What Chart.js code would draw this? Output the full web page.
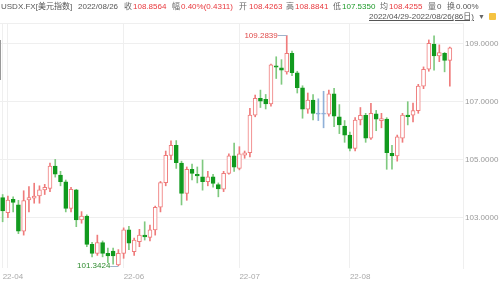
<!DOCTYPE html>
<html>
<head>
<meta charset="utf-8">
<script src="https://cdn.jsdelivr.net/npm/chart.js@4.4.0/dist/chart.umd.min.js"></script>
<style>
  html, body { margin: 0; padding: 0; background: #fff; }
  #wrap { position: relative; width: 500px; height: 284px; overflow: hidden;
          font-family: "Liberation Sans", "Noto Sans CJK SC", sans-serif; font-size: 8px; }
  #wrap canvas { position: absolute; left: 0; top: 0; }
  .t { position: absolute; white-space: nowrap; line-height: 10px; }
  .g { color: #555; } .r { color: #e8383d; } .gr { color: #1e9a2a; } .lb { color: #666; }
</style>
</head>
<body>
<div id="wrap">
  <canvas id="c" width="500" height="284"></canvas>
  <span class="t g" style="left:1px;top:2px">USDX.FX[美元指数]</span>
  <span class="t g" style="left:78px;top:2px">2022/08/26</span>
  <span class="t lb" style="left:124px;top:2px">收</span>
  <span class="t r" style="left:133px;top:2px">108.8564</span>
  <span class="t lb" style="left:172px;top:2px">幅</span>
  <span class="t r" style="left:181px;top:2px">0.40%(0.4311)</span>
  <span class="t lb" style="left:239px;top:2px">开</span>
  <span class="t r" style="left:249px;top:2px">108.4263</span>
  <span class="t lb" style="left:286px;top:2px">高</span>
  <span class="t r" style="left:295px;top:2px">108.8841</span>
  <span class="t lb" style="left:333px;top:2px">低</span>
  <span class="t gr" style="left:342px;top:2px">107.5350</span>
  <span class="t lb" style="left:380px;top:2px">均</span>
  <span class="t r" style="left:389px;top:2px">108.4255</span>
  <span class="t lb" style="left:428px;top:2px">量</span>
  <span class="t g" style="left:437px;top:2px">0</span>
  <span class="t lb" style="left:447px;top:2px">换</span>
  <span class="t g" style="left:456px;top:2px">0.00%</span>
  <span class="t g" style="left:369px;top:12px;text-decoration:underline;">2022/04/29-2022/08/26(86日)</span>
  <span class="t" style="left:478px;top:12px;color:#666;font-size:7px">▼</span>
  <div style="position:absolute;left:489px;top:13px;width:7px;height:7px;background:#f5c342;border-radius:1px"></div>
  <div style="position:absolute;left:0px;top:40px;width:1px;height:40px;background:#999"></div>
</div>
<script>
// ---- data ----
const dates = [
  '2022-04-29',
  '2022-05-02','2022-05-03','2022-05-04','2022-05-05','2022-05-06','2022-05-09','2022-05-10','2022-05-11','2022-05-12','2022-05-13',
  '2022-05-16','2022-05-17','2022-05-18','2022-05-19','2022-05-20','2022-05-23','2022-05-24','2022-05-25','2022-05-26','2022-05-27',
  '2022-05-30','2022-05-31',
  '2022-06-01','2022-06-02','2022-06-03','2022-06-06','2022-06-07','2022-06-08','2022-06-09','2022-06-10','2022-06-13','2022-06-14',
  '2022-06-15','2022-06-16','2022-06-17','2022-06-20','2022-06-21','2022-06-22','2022-06-23','2022-06-24','2022-06-27','2022-06-28',
  '2022-06-29','2022-06-30',
  '2022-07-01','2022-07-04','2022-07-05','2022-07-06','2022-07-07','2022-07-08','2022-07-11','2022-07-12','2022-07-13','2022-07-14',
  '2022-07-15','2022-07-18','2022-07-19','2022-07-20','2022-07-21','2022-07-22','2022-07-25','2022-07-26','2022-07-27','2022-07-28',
  '2022-07-29',
  '2022-08-01','2022-08-02','2022-08-03','2022-08-04','2022-08-05','2022-08-08','2022-08-09','2022-08-10','2022-08-11','2022-08-12',
  '2022-08-15','2022-08-16','2022-08-17','2022-08-18','2022-08-19','2022-08-22','2022-08-23','2022-08-24','2022-08-25','2022-08-26'
];
const open = [
  103.69,
  103.17,103.63,103.44,102.54,103.61,103.67,103.75,103.96,104.01,104.78,
  104.47,104.24,103.32,103.96,102.92,103.06,102.08,101.77,102.14,101.77,
  101.85,101.37,
  101.77,102.58,101.83,102.17,102.40,102.32,102.58,103.36,104.21,105.15,
  105.50,104.88,103.84,104.67,104.50,104.41,104.24,104.41,104.14,103.98,
  104.53,105.13,
  104.70,105.16,105.24,106.54,107.12,107.08,106.92,108.24,108.17,108.03,
  108.67,108.00,107.48,106.74,107.06,106.58,106.57,106.57,107.27,106.48,
  106.16,
  105.85,105.39,106.37,106.53,105.74,106.58,106.35,106.40,105.22,105.13,
  105.74,106.54,106.54,106.69,107.54,108.12,108.99,108.58,108.67,108.4263
];
const high = [
  103.80,
  103.75,103.72,103.60,103.93,104.07,104.19,104.10,104.15,104.88,105.01,
  104.60,104.30,104.05,103.98,103.21,103.10,102.15,102.40,102.20,101.95,
  101.95,101.90,
  102.65,102.70,102.30,102.60,102.86,102.75,103.40,104.25,105.30,105.65,
  105.66,104.95,104.75,104.85,104.75,104.99,104.60,104.50,104.20,104.60,
  105.20,105.57,
  105.45,105.30,106.77,107.23,107.40,107.25,108.30,108.55,108.45,109.2839,
  108.75,108.05,107.55,107.30,107.25,107.10,107.36,107.40,107.46,106.90,
  106.35,
  105.95,106.45,106.80,106.60,106.94,106.70,106.60,106.45,105.50,105.85,
  106.60,107.00,106.95,107.60,108.20,109.13,109.27,108.96,108.70,108.8841
];
const low = [
  102.86,
  103.00,103.20,102.45,102.40,103.20,103.50,103.50,103.80,103.90,104.40,
  104.10,103.20,103.20,102.69,102.81,102.00,101.65,101.70,101.65,101.45,
  101.40,101.3424,
  101.60,101.90,101.70,102.00,102.23,102.20,102.40,103.20,104.10,105.00,
  104.70,103.44,103.60,104.30,104.20,103.95,104.10,104.05,103.72,103.90,
  104.50,104.60,
  104.65,105.05,105.10,106.48,106.80,106.75,106.85,107.80,107.60,107.95,
  107.90,107.30,106.43,106.60,106.37,106.35,106.10,106.50,106.14,105.90,
  105.60,
  105.30,105.30,106.20,105.60,105.70,106.00,106.10,104.67,104.67,104.95,
  105.60,106.20,106.30,106.60,107.45,108.05,108.09,108.38,108.03,107.5350
];
const close = [
  103.23,
  103.61,103.53,102.54,103.59,103.69,103.75,103.96,104.05,104.78,104.50,
  104.24,103.32,103.98,102.92,103.06,102.08,101.77,102.14,101.77,101.68,
  101.68,101.77,
  102.58,102.12,102.23,102.40,102.34,102.58,103.36,104.21,105.15,105.50,
  104.90,103.84,104.67,104.53,104.44,104.24,104.41,104.18,103.99,104.53,
  105.13,104.74,
  105.20,105.24,106.54,107.12,107.02,106.92,108.27,108.19,108.09,108.67,
  108.00,107.48,106.74,107.06,106.60,106.57,106.58,107.27,106.50,106.20,
  105.85,
  105.39,106.37,106.53,105.74,106.60,106.40,106.42,105.24,105.13,105.79,
  106.54,106.48,106.69,107.54,108.12,109.01,108.58,108.69,108.4253,108.8564
];
const yTickValues = [103, 105, 107, 109];
const trailingSlots = 2; // empty days kept free on the right side of the plot

// ---- derived ----
const upColor = '#ef7b7b', downColor = '#119a1e', downWick = '#7fc97f', flatColor = '#8fb0d8';
function kind(i) {
  const d = close[i] - open[i];
  if (Math.abs(d) < 0.015) return 'flat';
  return d > 0 ? 'up' : 'down';
}
const labels = dates.concat(Array(trailingSlots).fill(''));
const bodies = dates.map((d, i) => [open[i], close[i]]);
const wicks = dates.map((d, i) => [low[i], high[i]]);

// month start ticks
const monthTicks = [];
dates.forEach((d, i) => {
  if (i === 0 || d.slice(0, 7) !== dates[i - 1].slice(0, 7)) monthTicks.push({ value: i, label: d.slice(2, 7) });
});
let lastShown = -100;
monthTicks.forEach(t => {
  if (t.value - lastShown < 10) t.label = '';
  else lastShown = t.value;
});

const Y_MIN = 101.266, Y_MAX = 109.714;

const extremes = {
  id: 'extremes',
  afterDatasetsDraw(chart) {
    const { ctx, scales: { x, y } } = chart;
    let hi = 0, lo = 0;
    high.forEach((v, i) => { if (v > high[hi]) hi = i; });
    low.forEach((v, i) => { if (v < low[lo]) lo = i; });
    ctx.save();
    ctx.font = '8px "Liberation Sans", sans-serif';
    ctx.textBaseline = 'middle';
    ctx.textAlign = 'right';
    ctx.strokeStyle = '#9fb4cc'; ctx.lineWidth = 1;
    // high
    let px = x.getPixelForValue(hi), py = y.getPixelForValue(high[hi]);
    ctx.beginPath(); ctx.moveTo(px - 9, Math.round(py) + 0.5); ctx.lineTo(px, Math.round(py) + 0.5); ctx.stroke();
    ctx.fillStyle = '#e04a4a';
    ctx.fillText(high[hi].toFixed(4), px - 9, py + 0.5);
    // low
    px = x.getPixelForValue(lo); py = y.getPixelForValue(low[lo]);
    ctx.beginPath(); ctx.moveTo(px - 8, Math.round(py) + 0.5); ctx.lineTo(px, Math.round(py) + 0.5); ctx.stroke();
    ctx.fillStyle = '#2e8b2e';
    ctx.fillText(low[lo].toFixed(4), px - 8, py);
    ctx.restore();
  }
};

new Chart(document.getElementById('c'), {
  type: 'bar',
  data: {
    labels: labels,
    datasets: [
      {
        label: 'body', data: bodies, order: 1, grouped: false,
        barThickness: 4, minBarLength: 1, borderWidth: 1, borderSkipped: false,
        backgroundColor: ctx => { const k = kind(ctx.dataIndex); return k === 'down' ? downColor : (k === 'flat' ? flatColor : '#ffffff'); },
        borderColor: ctx => { const k = kind(ctx.dataIndex); return k === 'down' ? downColor : (k === 'flat' ? flatColor : upColor); }
      },
      {
        label: 'wick', data: wicks, order: 2, grouped: false,
        barThickness: 1, borderWidth: 0,
        backgroundColor: ctx => { const k = kind(ctx.dataIndex); return k === 'down' ? downWick : (k === 'flat' ? flatColor : upColor); }
      }
    ]
  },
  options: {
    responsive: false, animation: false, events: [],
    layout: { padding: { top: 23, left: 0, right: 0, bottom: 0 } },
    plugins: { legend: { display: false }, tooltip: { enabled: false } },
    scales: {
      x: {
        type: 'category', offset: true,
        afterBuildTicks: s => { s.ticks = monthTicks.map(t => ({ value: t.value })); },
        afterFit: s => { s.height = 16; s.paddingLeft = 0; s.paddingRight = 0; },
        ticks: {
          autoSkip: false, maxRotation: 0, minRotation: 0, align: 'start', padding: 4,
          color: '#aaaaaa', font: { size: 8, family: '"Liberation Sans", sans-serif' },
          callback: v => { const t = monthTicks.find(m => m.value === v); return t ? t.label : ''; }
        },
        grid: { color: '#efefef', drawTicks: false, offset: false },
        border: { display: false }
      },
      y: {
        type: 'linear', position: 'right', min: Y_MIN, max: Y_MAX,
        afterBuildTicks: s => { s.ticks = yTickValues.concat([Y_MAX]).map(v => ({ value: v })); },
        afterFit: s => { s.width = 37; },
        ticks: {
          padding: 2, color: '#999999', font: { size: 8, family: '"Liberation Sans", sans-serif' },
          callback: v => yTickValues.includes(v) ? v.toFixed(4) : ''
        },
        grid: { color: '#efefef', drawTicks: false },
        border: { display: true, color: '#efefef' }
      }
    }
  },
  plugins: [extremes]
});
</script>
</body>
</html>
